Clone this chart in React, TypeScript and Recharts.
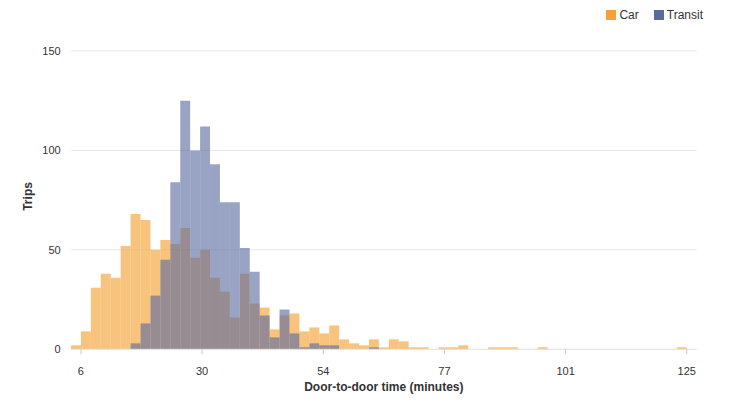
import React from "react";
import { ComposedChart, Bar, XAxis, YAxis, CartesianGrid } from "recharts";

// histogram bins: first edge and width in minutes (62 bins, last edge = 125)
const FIRST_EDGE = 6 - 119 / 61;
const BIN_WIDTH = 119 / 61;

const CAR = [
  2, 9, 31, 38, 36, 52, 68, 65, 50, 55,
  53, 61, 46, 50, 36, 29, 16, 38, 23, 21,
  10, 17, 18, 9, 11, 8, 12, 5, 3, 2,
  5, 1, 5, 4, 1, 1, 0, 1, 1, 2,
  0, 0, 1, 1, 1, 0, 0, 1, 0, 0,
  0, 0, 0, 0, 0, 0, 0, 0, 0, 0,
  0, 1,
];

const TRANSIT = [
  0, 0, 0, 0, 0, 0, 3, 13, 27, 45,
  84, 125, 100, 112, 93, 74, 74, 51, 39, 17,
  6, 20, 8, 1, 3, 2, 2, 0, 0, 0,
  1, 0, 0, 0, 0, 0, 0, 0, 0, 0,
  0, 0, 0, 0, 0, 0, 0, 0, 0, 0,
  0, 0, 0, 0, 0, 0, 0, 0, 0, 0,
  0, 0,
];

const X_TICKS = [6, 29.8, 53.6, 77.4, 101.2, 125];
const Y_TICKS = [0, 50, 100, 150];

const SERIES = [
  { key: "car", name: "Car", color: "#f5a338", opacity: 0.65 },
  { key: "transit", name: "Transit", color: "#5a6a9e", opacity: 0.62 },
];

const FONT = '"Liberation Sans", Arial, Helvetica, sans-serif';
const TEXT = "#333333";

const WIDTH = 728;
const HEIGHT = 399;
const MARGIN = { top: 43, right: 39.3, bottom: 12.7, left: 0 };
const Y_AXIS_WIDTH = 63;

const data = CAR.map((car, i) => ({
  minutes: FIRST_EDGE + (i + 0.5) * BIN_WIDTH,
  car,
  transit: TRANSIT[i],
}));

// axis runs one empty bin past the last one
const SLOTS = CAR.length + 1;
const X_DOMAIN = [FIRST_EDGE, FIRST_EDGE + SLOTS * BIN_WIDTH];
const PLOT_WIDTH = WIDTH - MARGIN.left - MARGIN.right - Y_AXIS_WIDTH;
// just under the band so recharts keeps bars flush instead of shrinking them
const BAR_SIZE = PLOT_WIDTH / SLOTS - 0.02;

function Legend() {
  return (
    <div
      style={{
        position: "absolute",
        top: 0,
        right: 33,
        display: "flex",
        gap: 15,
        fontFamily: FONT,
        fontSize: 12,
        lineHeight: "14px",
        color: TEXT,
      }}
    >
      {SERIES.map((s) => (
        <div key={s.key} style={{ display: "flex", alignItems: "center", gap: 3 }}>
          <span style={{ width: 10, height: 10, background: s.color, display: "inline-block" }} />
          <span>{s.name}</span>
        </div>
      ))}
    </div>
  );
}

export default function App() {
  const tick = { fill: TEXT, fontSize: 11, fontFamily: FONT };
  return (
    <div style={{ position: "relative", width: WIDTH, height: HEIGHT }}>
      <Legend />
      <ComposedChart
        width={WIDTH}
        height={HEIGHT}
        data={data}
        margin={MARGIN}
        barGap={0}
        barCategoryGap={0}
      >
        <CartesianGrid vertical={false} stroke="#e6e6e6" xAxisId="car" />
        <XAxis
          xAxisId="car"
          type="number"
          dataKey="minutes"
          domain={X_DOMAIN}
          ticks={X_TICKS}
          tickFormatter={(v: number) => String(Math.round(v))}
          tick={tick}
          tickSize={5}
          tickMargin={12.4}
          axisLine={{ stroke: "#e6e6e6" }}
          tickLine={{ stroke: "#cccccc" }}
          height={45}
          label={{
            value: "Door-to-door time (minutes)",
            position: "insideBottom",
            offset: 3,
            fill: TEXT,
            fontSize: 12,
            fontWeight: "bold",
            fontFamily: FONT,
          }}
        />
        <XAxis xAxisId="transit" type="number" dataKey="minutes" domain={X_DOMAIN} hide />
        <YAxis
          domain={[0, 150]}
          ticks={Y_TICKS}
          width={Y_AXIS_WIDTH}
          axisLine={false}
          tickLine={false}
          tickMargin={4.3}
          tick={tick}
          label={{
            value: "Trips",
            angle: -90,
            position: "center",
            dx: -11.5,
            dy: -3.7,
            fill: TEXT,
            fontSize: 12,
            fontWeight: "bold",
            fontFamily: FONT,
          }}
        />
        {SERIES.map((s) => (
          <Bar
            key={s.key}
            xAxisId={s.key}
            dataKey={s.key}
            name={s.name}
            fill={s.color}
            fillOpacity={s.opacity}
            barSize={BAR_SIZE}
            isAnimationActive={false}
          />
        ))}
      </ComposedChart>
    </div>
  );
}
